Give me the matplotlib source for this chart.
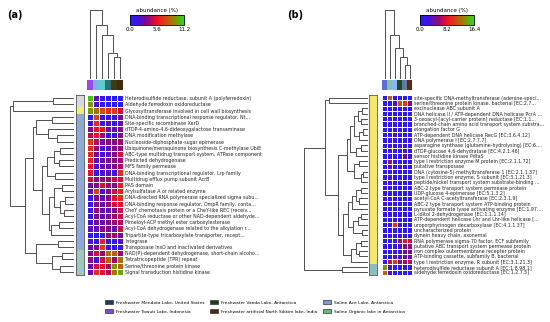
import numpy as np
import matplotlib
matplotlib.use("Agg")
import matplotlib.pyplot as plt
from matplotlib.colors import LinearSegmentedColormap
from matplotlib.patches import Patch

# ---- data: panel (a), COG functions ----
labels_a = [
    "Heterodisulfide reductase, subunit A (polyferredoxin)",
    "Aldehyde:ferredoxin oxidoreductase",
    "Glycosyltransferase involved in cell wall biosynthesis",
    "DNA-binding transcriptional response regulator, Nt...",
    "Site-specific recombinase XerD",
    "dTDP-4-amino-4,6-dideoxygalactose transaminase",
    "DNA modification methylase",
    "Nucleoside-diphosphate-sugar epimerase",
    "Ubiquinone/menaquinone biosynthesis C-methylase UbiE",
    "ABC-type multidrug transport system, ATPase component",
    "Predicted dehydrogenase",
    "MFS family permease",
    "DNA-binding transcriptional regulator, Lrp family",
    "Multidrug efflux pump subunit AcrB",
    "PAS domain",
    "Arylsulfatase A or related enzyme",
    "DNA-directed RNA polymerase specialized sigma subu...",
    "DNA-binding response regulator, OmpR family, conta...",
    "CheY chemotaxis protein or a CheY-like REC (receiv...",
    "Acyl-CoA reductase or other NAD-dependent aldehyde...",
    "Pimeloyl-ACP methyl ester carboxylesterase",
    "Acyl-CoA dehydrogenase related to the alkylation r...",
    "Tripartite-type tricarboxylate transporter, recept...",
    "Integrase",
    "Transposase InsO and inactivated derivatives",
    "NAD(P)-dependent dehydrogenase, short-chain alcoho...",
    "Tetratricopeptide (TPR) repeat",
    "Serine/threonine protein kinase",
    "Signal transduction histidine kinase",
]
values_a = [
    [10.5, 2.5, 1.0, 0.5, 0.5, 0.5],
    [9.5, 2.0, 1.0, 0.5, 0.5, 0.5],
    [9.5, 8.5, 7.5, 6.5, 7.0, 5.0],
    [0.5, 7.5, 1.0, 1.0, 1.5, 3.0],
    [1.0, 6.5, 1.0, 2.5, 1.0, 2.5],
    [3.5, 5.6, 5.6, 2.5, 2.5, 3.5],
    [4.5, 5.5, 4.0, 1.0, 1.5, 3.5],
    [7.0, 4.5, 3.0, 3.5, 3.5, 4.0],
    [6.5, 4.0, 1.5, 2.5, 3.5, 4.0],
    [6.5, 3.0, 1.5, 2.5, 3.5, 5.0],
    [6.0, 2.5, 2.5, 3.5, 3.5, 4.0],
    [5.5, 1.5, 3.0, 2.5, 3.5, 4.5],
    [5.5, 1.0, 2.0, 2.5, 1.5, 6.5],
    [5.0, 3.5, 3.5, 4.0, 4.5, 5.0],
    [3.0, 3.5, 5.0, 4.0, 3.5, 6.0],
    [2.5, 7.0, 1.5, 3.5, 5.0, 6.0],
    [1.0, 3.5, 2.5, 3.5, 5.5, 6.5],
    [1.0, 3.5, 2.5, 4.0, 5.0, 5.5],
    [1.0, 4.0, 2.5, 2.5, 3.5, 5.0],
    [1.0, 3.5, 2.5, 3.5, 4.0, 5.0],
    [2.0, 3.0, 2.5, 3.5, 4.0, 4.5],
    [2.5, 2.5, 3.5, 3.5, 2.5, 5.0],
    [0.5, 0.5, 1.0, 3.5, 4.0, 3.0],
    [2.0, 1.0, 6.0, 1.0, 1.0, 2.0],
    [2.5, 3.5, 7.0, 1.0, 1.0, 1.0],
    [3.5, 5.0, 4.0, 8.5, 8.0, 4.0],
    [3.5, 1.5, 5.0, 8.0, 4.0, 8.5],
    [2.5, 5.0, 5.5, 4.0, 9.5, 8.0],
    [2.5, 6.5, 5.5, 4.5, 8.5, 10.0],
]
row_groups_a = ["g1"] * 2 + ["g2"] + ["g3"] * 22 + ["g4"] * 4
col_samples_a = ["s1", "s2", "s3", "s4", "s5", "s6"]
vmax_a = 11.2
tree_rows_a = (
    ((0, 1, 0.32), 2, 0.96),
    (
        (
            ((3, 4, 0.33), (5, (6, 7, 0.25), 0.40), 0.58),
            (
                (((8, 9, 0.20), (10, 11, 0.22), 0.30), (12, 13, 0.28), 0.42),
                (((14, 15, 0.18), ((16, 17, 0.12), (18, 19, 0.15), 0.20), 0.30),
                 ((20, 21, 0.22), 22, 0.35), 0.38),
                0.50,
            ),
            0.63,
        ),
        ((23, 24, 0.24), ((25, 26, 0.18), (27, 28, 0.20), 0.33), 0.58),
        0.76,
    ),
    1.0,
)
tree_cols_a = (0, (1, (2, (3, (4, 5, 0.31), 0.37), 0.63), 0.78), 1.0)

# ---- data: panel (b), KEGG orthologs ----
labels_b = [
    "site-specific DNA-methyltransferase (adenine-speci...",
    "serine/threonine protein kinase, bacterial [EC:2.7...",
    "excinuclease ABC subunit A",
    "DNA helicase II / ATP-dependent DNA helicase PcrA ...",
    "3-oxoacyl-[acyl-carrier protein] reductase [EC:1.1...",
    "branched-chain amino acid transport system substra...",
    "elongation factor G",
    "ATP-dependent DNA helicase RecG [EC:3.6.4.12]",
    "DNA polymerase I [EC:2.7.7.7]",
    "asparagine synthase (glutamine-hydrolysing) [EC:6....",
    "dTDP-glucose 4,6-dehydratase [EC:4.2.1.46]",
    "sensor histidine kinase PdtaS",
    "type I restriction enzyme M protein [EC:2.1.1.72]",
    "putative transposase",
    "DNA (cytosine-5)-methyltransferase 1 [EC:2.1.1.37]",
    "type I restriction enzyme, S subunit [EC:3.1.21.3]",
    "peptide/nickel transport system substrate-binding ...",
    "ABC-2 type transport system permease protein",
    "UDP-glucose 4-epimerase [EC:5.1.3.2]",
    "acetyl-CoA C-acetyltransferase [EC:2.3.1.9]",
    "ABC-2 type transport system ATP-binding protein",
    "pyruvate formate lyase activating enzyme [EC:1.97....",
    "L-iditol 2-dehydrogenase [EC:1.1.1.14]",
    "ATP-dependent helicase Lhr and Lhr-like helicase [...",
    "uroporphyrinogen decarboxylase [EC:4.1.1.37]",
    "uncharacterized protein",
    "dynein heavy chain, axonemal",
    "RNA polymerase sigma-70 factor, ECF subfamily",
    "putative ABC transport system permease protein",
    "iron complex outermembrane recepter protein",
    "ATP-binding cassette, subfamily B, bacterial",
    "type I restriction enzyme, R subunit [EC:3.1.21.3]",
    "heterodisulfide reductase subunit A [EC:1.8.98.1]",
    "aldehyde:ferredoxin oxidoreductase [EC:1.2.7.5]",
]
values_b = [
    [1.0, 12.0, 2.0, 1.0, 1.0, 1.0],
    [1.0, 1.0, 2.0, 11.0, 10.0, 5.0],
    [1.5, 1.0, 1.0, 1.5, 1.0, 1.0],
    [1.0, 1.0, 1.0, 1.5, 1.0, 1.0],
    [1.0, 1.0, 1.0, 1.0, 1.0, 1.5],
    [1.0, 1.0, 1.0, 1.0, 1.0, 1.0],
    [1.0, 1.0, 2.0, 1.0, 1.0, 1.5],
    [1.0, 1.0, 3.0, 1.0, 1.0, 1.0],
    [1.0, 1.0, 1.0, 1.0, 1.0, 2.0],
    [1.0, 2.0, 1.0, 3.0, 1.0, 1.0],
    [1.0, 1.0, 1.0, 1.0, 3.0, 1.0],
    [1.0, 1.0, 1.0, 1.0, 4.0, 1.5],
    [1.0, 6.0, 2.0, 1.0, 1.0, 1.0],
    [1.0, 4.0, 1.0, 3.0, 1.0, 1.0],
    [1.0, 2.0, 1.0, 1.0, 1.0, 1.0],
    [1.0, 3.0, 1.0, 1.0, 1.0, 1.0],
    [2.0, 1.0, 1.0, 1.0, 1.0, 1.0],
    [2.5, 1.0, 1.0, 1.0, 1.0, 1.5],
    [2.0, 1.0, 1.0, 1.0, 1.0, 1.0],
    [2.5, 1.0, 1.0, 1.0, 1.0, 1.0],
    [3.0, 1.0, 1.0, 1.5, 1.0, 1.0],
    [1.0, 1.0, 1.0, 1.0, 1.0, 1.0],
    [1.5, 1.0, 1.0, 1.0, 1.0, 1.0],
    [1.0, 1.0, 2.0, 1.0, 1.0, 1.0],
    [1.0, 2.0, 10.0, 1.0, 1.0, 1.0],
    [1.0, 1.0, 1.0, 1.0, 1.0, 1.0],
    [1.0, 1.0, 1.0, 2.0, 1.0, 1.0],
    [1.0, 1.0, 1.0, 6.0, 8.0, 7.0],
    [1.0, 1.0, 1.0, 3.0, 5.0, 6.0],
    [1.0, 1.0, 1.0, 2.0, 4.0, 5.0],
    [1.0, 1.0, 3.0, 2.0, 4.0, 4.0],
    [1.0, 7.0, 10.0, 5.0, 6.0, 7.0],
    [14.0, 3.0, 1.0, 1.0, 1.0, 1.0],
    [12.0, 2.0, 1.0, 1.0, 1.0, 1.0],
]
row_groups_b = ["g5"] * 32 + ["g6"] * 2
col_samples_b = ["t1", "t2", "t3", "t4", "t5", "t6"]
vmax_b = 16.4
tree_rows_b = (
    (
        (0, 1, 0.60),
        (
            (
                (
                    (((2, 3, 0.08), (4, 5, 0.10), 0.14), ((6, 7, 0.07), 8, 0.12), 0.20),
                    ((9, 10, 0.10), 11, 0.18),
                    0.27,
                ),
                ((12, 13, 0.12), ((14, 15, 0.06), 16, 0.10), 0.20),
                0.32,
            ),
            (
                ((((17, 18, 0.10), (19, 20, 0.12), 0.18), 21, 0.24),
                 (((22, 23, 0.10), 24, 0.15), (25, 26, 0.08), 0.22), 0.30),
                (((27, 28, 0.10), (29, 30, 0.12), 0.18), 31, 0.26),
                0.38,
            ),
            0.46,
        ),
        0.67,
    ),
    (32, 33, 0.40),
    1.0,
)
tree_cols_b = (0, (1, (2, (3, (4, 5, 0.18), 0.31), 0.44), 0.63), 1.0)

# legend: sampling sites
sites = [
    "Freshwater Mendota Lake, United States",
    "Freshwater Towuti Lake, Indonesia",
    "Freshwater Vanda Lake, Antarctica",
    "Freshwater artificial North Sikkim lake, India",
    "Saline Ace Lake, Antarctica",
    "Saline Organic lake in Antarctica",
]

# ---- styles ----
site_colors = ["#1f3a5c", "#8844d6", "#1d401d", "#4e2a12", "#7e9ad8", "#6cb87c"]
group_colors = {"g1": "#d9d9d9", "g2": "#f0ef6e", "g3": "#8fa9d8", "g4": "#9dc9c0",
                "g5": "#f3e86c", "g6": "#8fbcbc"}
sample_colors = {"s1": "#a045e6", "s2": "#74b8ea", "s3": "#5ccfc6", "s4": "#2d6e78",
                 "s5": "#3c3c12", "s6": "#42290f",
                 "t1": "#5c70d8", "t2": "#88c0a8", "t3": "#88b8f0", "t4": "#1e4a22",
                 "t5": "#6878a0", "t6": "#5a2a12"}
cmap = LinearSegmentedColormap.from_list(
    "abund", ["#1f1fff", "#4a10d8", "#8c0a78", "#f01028", "#d24a10", "#8c8c00", "#22dd22"])
tree_color = "#505050"

W, H = 550, 322
fig = plt.figure(figsize=(W / 100, H / 100), dpi=100)


def px_axes(x0, y0, x1, y1):
    return fig.add_axes([x0 / W, 1 - y1 / H, (x1 - x0) / W, (y1 - y0) / H])


def draw_tree(ax, node, vertical):
    if isinstance(node, int):
        return node + 0.5, 0.0
    left, right, h = node
    p1, h1 = draw_tree(ax, left, vertical)
    p2, h2 = draw_tree(ax, right, vertical)
    pos, hts = [p1, p1, p2, p2], [h1, h, h, h2]
    if vertical:
        ax.plot(pos, hts, color=tree_color, lw=0.7, clip_on=False)
    else:
        ax.plot(hts, pos, color=tree_color, lw=0.7, clip_on=False)
    return (p1 + p2) / 2, h


def panel(tag, tag_x, box, labels, values, groups, samples, vmax, trow, tcol):
    # box: x positions of row dendrogram, row strip, heatmap, colorbar
    dx0, dx1, sx0, sx1, hx0, hx1, cbx0 = box
    n = len(labels)
    y0, y1 = 95, 275

    axd = px_axes(dx0, y0, dx1, y1)
    draw_tree(axd, trow, vertical=False)
    axd.set_xlim(1.0, 0)
    axd.set_ylim(n, 0)
    axd.axis("off")

    axc = px_axes(hx0, 10, hx1, 77.5)
    draw_tree(axc, tcol, vertical=True)
    axc.set_xlim(0, len(samples))
    axc.set_ylim(0, 1.0)
    axc.axis("off")

    axs = px_axes(sx0, y0, sx1, y1)
    axs.barh(np.arange(n), 1, height=1, align="edge",
             color=[group_colors[g] for g in groups], linewidth=0)
    axs.set_ylim(n, 0)
    axs.set_xlim(0, 1)
    axs.set_xticks([])
    axs.set_yticks([])
    for sp in axs.spines.values():
        sp.set_linewidth(0.6)
        sp.set_color("#555555")

    axt = px_axes(hx0, 80, hx1, 90)
    axt.bar(np.arange(len(samples)), 1, width=1, align="edge",
            color=[sample_colors[s] for s in samples], linewidth=0)
    axt.set_xlim(0, len(samples))
    axt.set_ylim(0, 1)
    axt.axis("off")

    axh = px_axes(hx0, y0, hx1, y1)
    mesh = axh.pcolormesh(np.array(values), cmap=cmap, vmin=0, vmax=vmax,
                          edgecolors="white", linewidth=0.6)
    axh.set_ylim(n, 0)
    axh.set_xlim(0, len(samples))
    axh.set_xticks([])
    axh.yaxis.tick_right()
    axh.set_yticks(np.arange(n) + 0.5)
    axh.set_yticklabels(labels, fontsize=3.4, color="#222222")
    axh.tick_params(axis="y", length=0, pad=1.5)
    for sp in axh.spines.values():
        sp.set_visible(False)

    cax = px_axes(cbx0, 15, cbx0 + 54, 25)
    cb = fig.colorbar(mesh, cax=cax, orientation="horizontal")
    ticks = [0, vmax / 2, vmax]
    cb.set_ticks(ticks)
    cb.set_ticklabels([f"{t:.1f}" for t in ticks])
    cb.ax.tick_params(labelsize=4, length=0, pad=1.5)
    cb.outline.set_linewidth(0.6)
    cax.set_title("abundance (%)", fontsize=4, pad=2)

    fig.text(tag_x / W, 1 - 15 / H, tag, fontsize=7, fontweight="bold",
             va="center", ha="left")


panel("(a)", 7, (10, 73, 76, 83.5, 87, 123, 130), labels_a, values_a,
      row_groups_a, col_samples_a, vmax_a, tree_rows_a, tree_cols_a)
panel("(b)", 287, (304, 367, 369, 377, 382, 412, 420), labels_b, values_b,
      row_groups_b, col_samples_b, vmax_b, tree_rows_b, tree_cols_b)

handles = [Patch(facecolor=c, edgecolor="#333333", linewidth=0.5) for c in site_colors]
fig.legend(handles, sites, loc="center", bbox_to_anchor=(255 / W, 1 - 307 / H),
           ncol=3, fontsize=3.2, frameon=False, handlelength=1.8, handleheight=0.9,
           columnspacing=1.2, labelspacing=1.0, handletextpad=0.7)

fig.savefig("out.png", dpi=100)
